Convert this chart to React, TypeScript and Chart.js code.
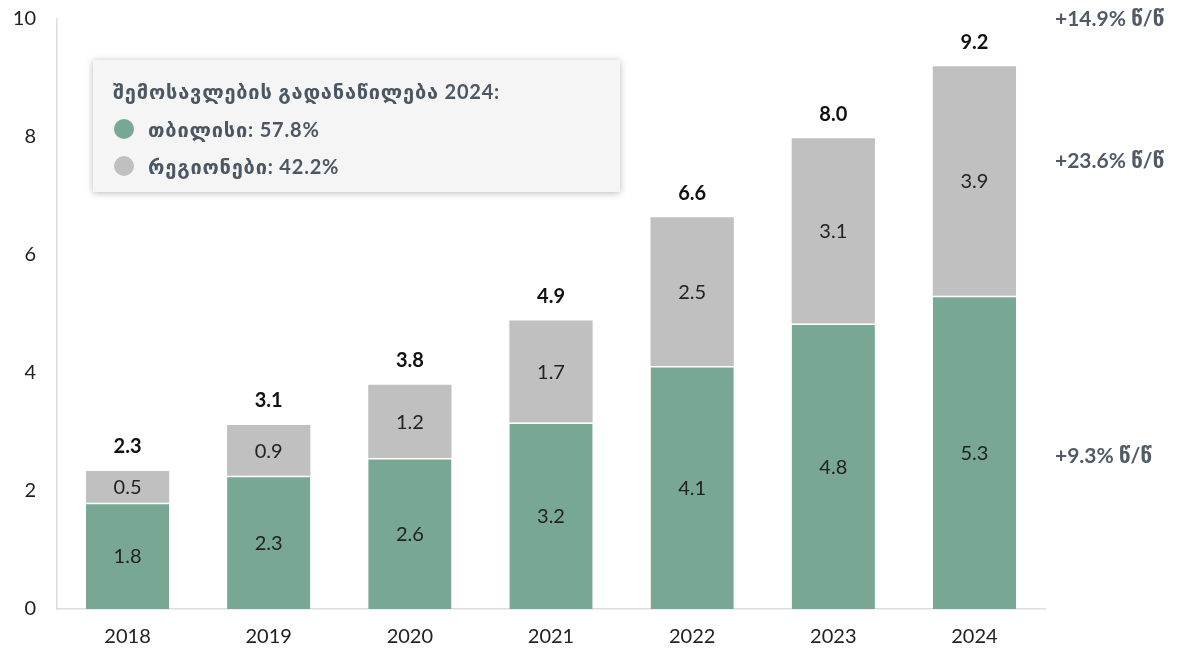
import React, { useEffect, useRef } from "react";
import { Chart, registerables } from "chart.js";

Chart.register(...registerables);

const years = ["2018", "2019", "2020", "2021", "2022", "2023", "2024"];
const tbilisi = [1.8, 2.26, 2.56, 3.16, 4.12, 4.84, 5.31];
const regions = [0.54, 0.86, 1.24, 1.73, 2.52, 3.14, 3.89];
const yTicks = [0, 2, 4, 6, 8, 10];
const legendTitle = "შემოსავლების გადანაწილება 2024:";
const legendItems = ["თბილისი: 57.8%", "რეგიონები: 42.2%"];
const growthLabels = ["+14.9% წ/წ", "+23.6% წ/წ", "+9.3% წ/წ"];

const GREEN = "#78a894";
const GRAY = "#c0c0c0";
const FONT = "Lato, 'DejaVu Sans', sans-serif";

const labelPlugin = {
  id: "barLabels",
  afterDatasetsDraw(chart: any) {
    const ctx = chart.ctx;
    const m0 = chart.getDatasetMeta(0);
    const m1 = chart.getDatasetMeta(1);
    ctx.save();
    ctx.textAlign = "center";
    ctx.textBaseline = "middle";
    years.forEach((_, i) => {
      const g = m0.data[i];
      const r = m1.data[i];
      ctx.fillStyle = "#222";
      ctx.font = `20px ${FONT}`;
      ctx.fillText(tbilisi[i].toFixed(1), g.x, (g.y + g.base) / 2 + 1);
      ctx.fillText(regions[i].toFixed(1), r.x, (r.y + r.base) / 2 + 1);
      ctx.fillStyle = "#111";
      ctx.font = `bold 20px ${FONT}`;
      ctx.fillText((tbilisi[i] + regions[i]).toFixed(1), r.x, r.y - 24);
    });
    ctx.restore();
  },
};

export default function App() {
  const ref = useRef<HTMLCanvasElement | null>(null);

  useEffect(() => {
    if (!ref.current) return;
    const chart = new Chart(ref.current, {
      type: "bar",
      data: {
        labels: years,
        datasets: [
          {
            label: "tbilisi",
            data: tbilisi,
            backgroundColor: GREEN,
            borderColor: "#ffffff",
            borderWidth: { top: 1.5, left: 0, right: 0, bottom: 0 },
            borderSkipped: false,
            barPercentage: 0.59,
            categoryPercentage: 1,
          },
          {
            label: "regions",
            data: regions,
            backgroundColor: GRAY,
            borderWidth: 0,
            barPercentage: 0.59,
            categoryPercentage: 1,
          },
        ],
      },
      options: {
        animation: false,
        responsive: false,
        devicePixelRatio: 1,
        layout: { padding: { left: 0, right: 156, top: 19, bottom: 0 } },
        plugins: { legend: { display: false }, tooltip: { enabled: false } },
        scales: {
          x: {
            stacked: true,
            grid: { display: false, drawTicks: false },
            border: { color: "#dddddd", width: 1.5 },
            ticks: { color: "#222", font: { family: FONT, size: 20 }, padding: 16 },
            afterFit: (s: any) => {
              s.height = 39;
              s.paddingLeft = 0;
              s.paddingRight = 0;
            },
          },
          y: {
            stacked: true,
            min: 0,
            max: 10,
            grid: { display: false, drawTicks: false },
            border: { color: "#dddddd", width: 1.5 },
            afterBuildTicks: (s: any) => {
              s.ticks = yTicks.map((v) => ({ value: v }));
            },
            ticks: { color: "#222", font: { family: FONT, size: 20 }, padding: 21 },
            afterFit: (s: any) => {
              s.width = 57;
              s.paddingTop = 0;
              s.paddingBottom = 0;
            },
          },
        },
      },
      plugins: [labelPlugin],
    });
    return () => chart.destroy();
  }, []);

  const textColor = "#4b5763";
  const growthTops = [18, 160, 455];

  return (
    <div style={{ position: "absolute", left: 0, top: 0, width: 1201, height: 648, background: "#fff" }}>
      <canvas ref={ref} width={1201} height={648} style={{ position: "absolute", left: 0, top: 0 }} />
      <div
        style={{
          position: "absolute",
          left: 93,
          top: 60,
          width: 527,
          height: 132,
          background: "#f5f5f5",
          boxShadow: "0 1px 7px rgba(0,0,0,0.28)",
          fontFamily: FONT,
          color: textColor,
          fontWeight: "bold",
          fontSize: 20,
          letterSpacing: "0.8px",
        }}
      >
        <div style={{ position: "absolute", left: 20, top: 19, whiteSpace: "nowrap", lineHeight: "24px" }}>
          {legendTitle}
        </div>
        {legendItems.map((t, i) => (
          <div
            key={t}
            style={{
              position: "absolute",
              left: 21,
              top: 57 + i * 37,
              display: "flex",
              alignItems: "center",
              whiteSpace: "nowrap",
              lineHeight: "24px",
            }}
          >
            <span
              style={{
                display: "inline-block",
                width: 20,
                height: 20,
                borderRadius: 10,
                background: i === 0 ? GREEN : GRAY,
                marginRight: 14,
              }}
            />
            <span>{t}</span>
          </div>
        ))}
      </div>
      {growthLabels.map((t, i) => (
        <div
          key={t}
          style={{
            position: "absolute",
            left: 1055,
            top: growthTops[i] - 12,
            lineHeight: "24px",
            fontFamily: FONT,
            fontWeight: "bold",
            fontSize: 21,
            color: "#505b66",
            whiteSpace: "nowrap",
          }}
        >
          {t}
        </div>
      ))}
    </div>
  );
}
